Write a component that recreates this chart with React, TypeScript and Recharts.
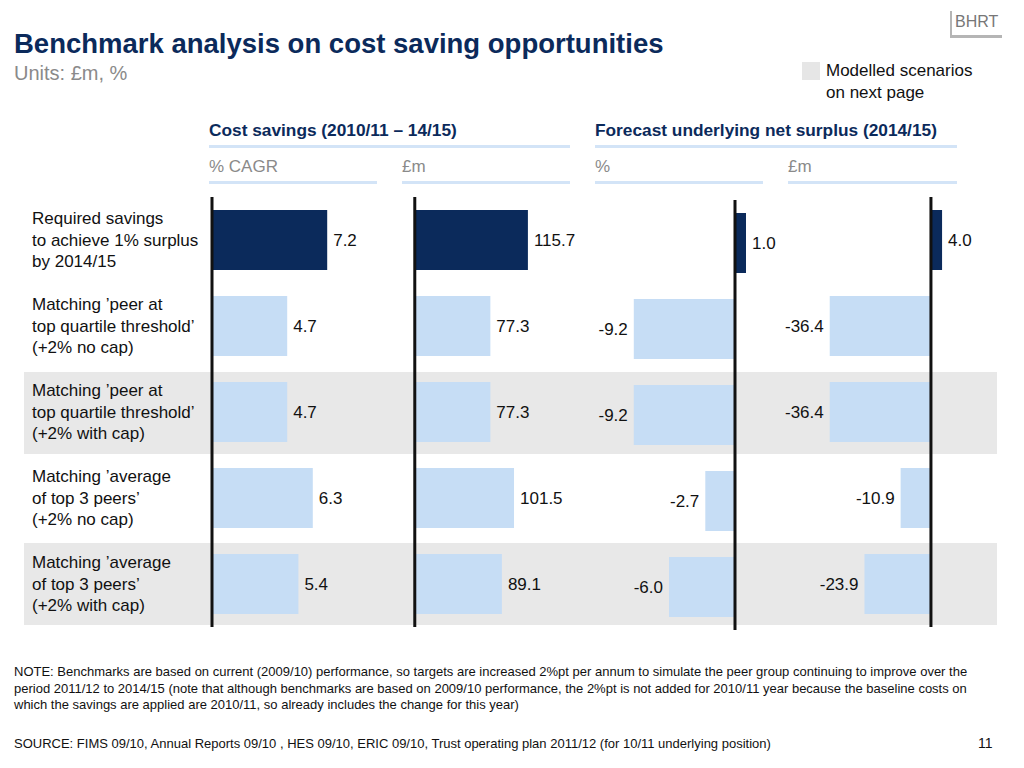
import { Bar, BarChart, Cell, LabelList, ReferenceLine, XAxis, YAxis } from 'recharts';

const rowLabels = [
  'Required savings\nto achieve 1% surplus\nby 2014/15',
  'Matching \u2019peer at\ntop quartile threshold\u2019\n(+2% no cap)',
  'Matching \u2019peer at\ntop quartile threshold\u2019\n(+2% with cap)',
  'Matching \u2019average\nof top 3 peers\u2019\n(+2% no cap)',
  'Matching \u2019average\nof top 3 peers\u2019\n(+2% with cap)',
];
const cagrPct = [7.2, 4.7, 4.7, 6.3, 5.4];
const savingsGbp = [115.7, 77.3, 77.3, 101.5, 89.1];
const surplusPct = [1.0, -9.2, -9.2, -2.7, -6.0];
const surplusGbp = [4.0, -36.4, -36.4, -10.9, -23.9];
const shadedRows = [2, 4];

const NAVY = '#0b2a5b';
const LIGHT = '#c6ddf5';
const FONT = '"Liberation Sans", Arial, Helvetica, sans-serif';

const buildRows = (values: number[]) => rowLabels.map((label, i) => ({ label, value: values[i] }));

const ValueLabel = (props: any) => {
  const { x, y, width, height, value } = props;
  const x0 = Math.min(x, x + width);
  const x1 = Math.max(x, x + width);
  const neg = value < 0;
  return (
    <text
      x={neg ? x0 - 6 : x1 + 6}
      y={y + height / 2}
      textAnchor={neg ? 'end' : 'start'}
      dominantBaseline="central"
      fontSize={17}
      fontFamily={FONT}
      fill="#111"
    >
      {Number(value).toFixed(1)}
    </text>
  );
};

const RowTick = (props: any) => {
  const { y, payload } = props;
  const lines = String(payload.value).split('\n');
  return (
    <text x={8} y={y} textAnchor="start" fontSize={17} fontFamily={FONT} fill="#111">
      {lines.map((ln, i) => (
        <tspan key={i} x={8} y={y + (i - 1) * 21.5} dominantBaseline="central">
          {ln}
        </tspan>
      ))}
    </text>
  );
};

interface PanelProps {
  values: number[];
  domain: [number, number];
  left: number;
  top: number;
  plotWidth: number;
  axisWidth?: number;
}

function Panel({ values, domain, left, top, plotWidth, axisWidth = 0 }: PanelProps) {
  const data = buildRows(values);
  return (
    <div style={{ position: 'absolute', left, top }}>
      <BarChart
        width={plotWidth + axisWidth}
        height={430}
        layout="vertical"
        data={data}
        margin={{ top: 0, right: 0, bottom: 0, left: 0 }}
      >
        <XAxis type="number" domain={domain} hide />
        {axisWidth > 0 ? (
          <YAxis
            type="category"
            dataKey="label"
            width={axisWidth}
            axisLine={false}
            tickLine={false}
            tick={<RowTick />}
            interval={0}
          />
        ) : (
          <YAxis type="category" dataKey="label" hide />
        )}
        <Bar dataKey="value" barSize={60} isAnimationActive={false}>
          {data.map((_, i) => (
            <Cell key={i} fill={i === 0 ? NAVY : LIGHT} />
          ))}
          <LabelList dataKey="value" content={<ValueLabel />} />
        </Bar>
        <ReferenceLine x={0} stroke="#111" strokeWidth={3} />
      </BarChart>
    </div>
  );
}

const headerLine = (left: number, top: number, width: number) => (
  <div style={{ position: 'absolute', left, top, width, height: 3, background: '#d3e4f7' }} />
);

export default function App() {
  return (
    <div
      style={{
        position: 'absolute',
        left: 0,
        top: 0,
        width: 1024,
        height: 768,
        background: '#fff',
        fontFamily: FONT,
        overflow: 'hidden',
      }}
    >
      {/* logo */}
      <div style={{ position: 'absolute', left: 950, top: 11, width: 2, height: 26, background: '#b5b5b5' }} />
      <div style={{ position: 'absolute', left: 950, top: 35, width: 52, height: 3, background: '#b5b5b5' }} />
      <div style={{ position: 'absolute', left: 955, top: 13, fontSize: 16, color: '#777' }}>BHRT</div>

      <div style={{ position: 'absolute', left: 14, top: 28, fontSize: 27.5, fontWeight: 700, color: NAVY }}>
        Benchmark analysis on cost saving opportunities
      </div>
      <div style={{ position: 'absolute', left: 14, top: 62, fontSize: 20, color: '#8a8a8a' }}>Units: £m, %</div>

      <div style={{ position: 'absolute', left: 802, top: 62, width: 18, height: 18, background: '#e6e6e6' }} />
      <div style={{ position: 'absolute', left: 826, top: 60, fontSize: 17, lineHeight: '22px', color: '#111' }}>
        Modelled scenarios
        <br />
        on next page
      </div>

      {/* headers */}
      <div style={{ position: 'absolute', left: 209, top: 120, fontSize: 17.3, fontWeight: 700, color: NAVY }}>
        Cost savings (2010/11 – 14/15)
      </div>
      {headerLine(209, 145, 361)}
      <div style={{ position: 'absolute', left: 595, top: 120, fontSize: 17.3, fontWeight: 700, color: NAVY }}>
        Forecast underlying net surplus (2014/15)
      </div>
      {headerLine(595, 145, 362)}

      <div style={{ position: 'absolute', left: 209, top: 157, fontSize: 17, color: '#8a8a8a' }}>% CAGR</div>
      {headerLine(209, 181, 168)}
      <div style={{ position: 'absolute', left: 402, top: 157, fontSize: 17, color: '#8a8a8a' }}>£m</div>
      {headerLine(402, 181, 168)}
      <div style={{ position: 'absolute', left: 595, top: 157, fontSize: 17, color: '#8a8a8a' }}>%</div>
      {headerLine(595, 181, 168)}
      <div style={{ position: 'absolute', left: 788, top: 157, fontSize: 17, color: '#8a8a8a' }}>£m</div>
      {headerLine(788, 181, 169)}

      {/* shaded rows */}
      {shadedRows.map((r) => (
        <div
          key={r}
          style={{
            position: 'absolute',
            left: 24,
            top: 372 + (r - 2) * 85.5,
            width: 973,
            height: 82,
            background: '#e8e8e8',
          }}
        />
      ))}

      <Panel values={cagrPct} domain={[-1, 12]} left={24} top={197} plotWidth={208} axisWidth={172} />
      <Panel values={savingsGbp} domain={[-10, 170]} left={405} top={197} plotWidth={176} />
      <Panel values={surplusPct} domain={[-14, 4]} left={581} top={200} plotWidth={198} />
      <Panel values={surplusGbp} domain={[-55, 18]} left={778} top={197} plotWidth={203} />

      <div style={{ position: 'absolute', left: 14, top: 664, width: 1005, fontSize: 13, lineHeight: '16.5px', color: '#111' }}>
        NOTE: Benchmarks are based on current (2009/10) performance, so targets are increased 2%pt per annum to simulate the peer group continuing to improve over the
        <br />
        period 2011/12 to 2014/15 (note that although benchmarks are based on 2009/10 performance, the 2%pt is not added for 2010/11 year because the baseline costs on
        <br />
        which the savings are applied are 2010/11, so already includes the change for this year)
      </div>
      <div style={{ position: 'absolute', left: 14, top: 736, fontSize: 13, color: '#111' }}>
        SOURCE: FIMS 09/10, Annual Reports 09/10 , HES 09/10, ERIC 09/10, Trust operating plan 2011/12 (for 10/11 underlying position)
      </div>
      <div style={{ position: 'absolute', left: 978, top: 735, fontSize: 14, color: '#111' }}>11</div>
    </div>
  );
}
